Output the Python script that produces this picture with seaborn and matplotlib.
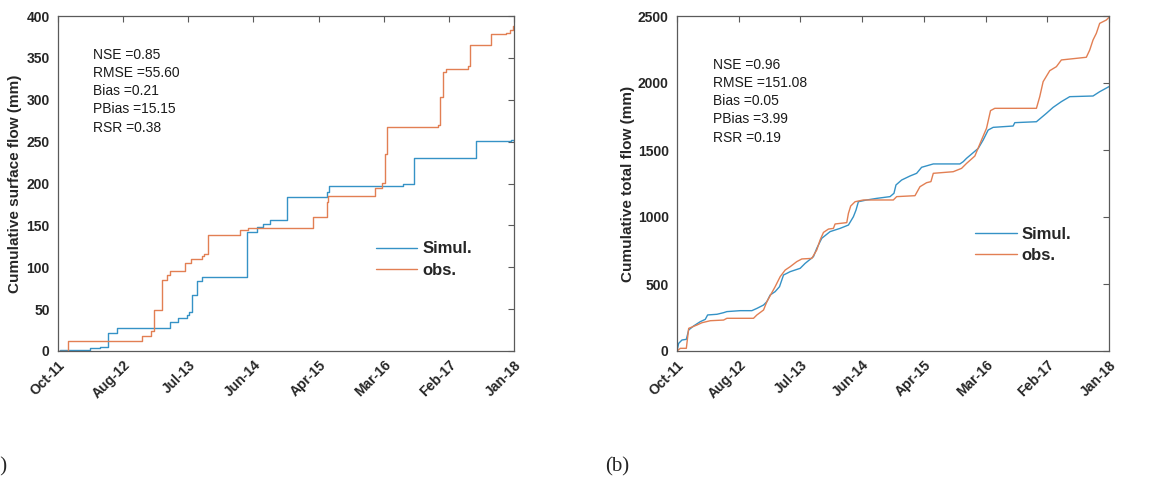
import matplotlib
matplotlib.use("Agg")
import matplotlib.pyplot as plt
import numpy as np
import pandas as pd
import seaborn as sns

# ---- time axis (decimal years) ----
x_start, x_end = 2011.75, 2018.0
tick_labels = ["Oct-11", "Aug-12", "Jul-13", "Jun-14", "Apr-15", "Mar-16", "Feb-17", "Jan-18"]

# ---- (a) cumulative surface flow, mm ----
surf_sim_t = [2011.750, 2011.782, 2012.193, 2012.329, 2012.434, 2012.557, 2013.242, 2013.287,
              2013.395, 2013.516, 2013.552, 2013.580, 2013.652, 2013.730, 2014.337, 2014.474,
              2014.565, 2014.656, 2014.884, 2015.432, 2015.464, 2016.481, 2016.632, 2017.475,
              2017.962, 2018.000]
surf_sim_v = [0, 1, 3, 5, 22, 27, 28, 35,
              40, 43, 46, 67, 84, 88, 142, 148,
              152, 157, 184, 190, 197, 200, 230, 251,
              252, 250]
surf_obs_t = [2011.750, 2011.893, 2012.903, 2013.018, 2013.070, 2013.182, 2013.242, 2013.287,
              2013.484, 2013.575, 2013.721, 2013.753, 2013.812, 2014.245, 2014.359, 2015.240,
              2015.432, 2015.454, 2016.093, 2016.184, 2016.230, 2016.253, 2016.960, 2016.992,
              2017.028, 2017.065, 2017.370, 2017.393, 2017.690, 2017.895, 2017.941, 2017.986,
              2018.000]
surf_obs_v = [0, 12, 18, 24, 49, 85, 91, 95,
              105, 110, 113, 116, 138, 144, 147, 160,
              178, 185, 195, 201, 235, 267, 270, 303,
              333, 337, 340, 365, 378, 380, 383, 388,
              388]

# ---- (b) cumulative total flow, mm ----
tot_sim_t = [2011.750, 2011.774, 2011.822, 2011.885, 2011.919, 2011.991, 2012.087, 2012.159,
             2012.193, 2012.328, 2012.424, 2012.472, 2012.665, 2012.833, 2012.906, 2013.002,
             2013.050, 2013.098, 2013.170, 2013.233, 2013.291, 2013.387, 2013.532, 2013.604,
             2013.724, 2013.772, 2013.844, 2013.965, 2014.109, 2014.230, 2014.302, 2014.340,
             2014.374, 2014.494, 2014.639, 2014.832, 2014.889, 2014.918, 2015.000, 2015.121,
             2015.217, 2015.289, 2015.458, 2015.843, 2015.891, 2015.939, 2016.035, 2016.108,
             2016.180, 2016.252, 2016.324, 2016.613, 2016.637, 2016.950, 2017.095, 2017.191,
             2017.311, 2017.432, 2017.769, 2017.865, 2018.000]
tot_sim_v = [0, 57, 82, 87, 157, 187, 219, 236,
             269, 274, 286, 294, 301, 301, 318, 343,
             368, 418, 443, 480, 567, 592, 617, 654,
             704, 766, 841, 891, 915, 940, 1002, 1052,
             1114, 1127, 1139, 1152, 1177, 1239, 1276, 1306,
             1326, 1371, 1396, 1396, 1413, 1438, 1480, 1512,
             1575, 1649, 1669, 1679, 1704, 1711, 1774, 1818,
             1861, 1898, 1903, 1935, 1973]
tot_obs_t = [2011.750, 2011.798, 2011.885, 2011.919, 2012.039, 2012.111, 2012.232, 2012.424,
             2012.472, 2012.857, 2012.906, 2013.002, 2013.050, 2013.170, 2013.243, 2013.315,
             2013.387, 2013.483, 2013.556, 2013.700, 2013.772, 2013.820, 2013.869, 2013.941,
             2014.013, 2014.037, 2014.206, 2014.230, 2014.263, 2014.326, 2014.446, 2014.880,
             2014.928, 2015.193, 2015.265, 2015.361, 2015.424, 2015.458, 2015.746, 2015.867,
             2015.939, 2016.059, 2016.156, 2016.228, 2016.286, 2016.348, 2016.950, 2016.998,
             2017.047, 2017.143, 2017.239, 2017.311, 2017.672, 2017.721, 2017.769, 2017.817,
             2017.865, 2017.961, 2018.000]
tot_obs_v = [0, 20, 20, 169, 194, 211, 226, 231,
             244, 244, 269, 306, 368, 480, 555, 604,
             629, 667, 687, 691, 754, 828, 885, 910,
             915, 948, 958, 1027, 1082, 1114, 1127, 1127,
             1152, 1159, 1226, 1256, 1264, 1326, 1338, 1363,
             1400, 1455, 1575, 1662, 1794, 1811, 1811, 1898,
             2010, 2092, 2122, 2172, 2192, 2246, 2321, 2371,
             2445, 2470, 2490]

stats_a = ["NSE =0.85", "RMSE =55.60", "Bias =0.21", "PBias =15.15", "RSR =0.38"]
stats_b = ["NSE =0.96", "RMSE =151.08", "Bias =0.05", "PBias =3.99", "RSR =0.19"]

series_order = ["Simul.", "obs."]
palette = {"Simul.": "#3592C6", "obs.": "#E27F53"}


def frame(sim_t, sim_v, obs_t, obs_v):
    return pd.concat([
        pd.DataFrame({"year": sim_t, "value": sim_v, "series": "Simul."}),
        pd.DataFrame({"year": obs_t, "value": obs_v, "series": "obs."}),
    ], ignore_index=True)


sns.set_theme(style="white")
plt.rcParams["font.family"] = ["Liberation Sans", "DejaVu Sans"]

fig = plt.figure(figsize=(11.51, 4.83), dpi=100)
W, H = 1151, 483
ax_a = fig.add_axes([58 / W, 1 - 351 / H, 456 / W, 335 / H])
ax_b = fig.add_axes([677 / W, 1 - 351 / H, 432 / W, 335 / H])

panels = [
    (ax_a, frame(surf_sim_t, surf_sim_v, surf_obs_t, surf_obs_v), "steps-post",
     (0, 400), np.arange(0, 401, 50), "Cumulative surface flow (mm)", stats_a,
     (0.076, 0.905), (0.697, 0.273), -0.079),
    (ax_b, frame(tot_sim_t, tot_sim_v, tot_obs_t, tot_obs_v), "default",
     (0, 2500), np.arange(0, 2501, 500), "Cumulative total flow (mm)", stats_b,
     (0.083, 0.875), (0.69, 0.317), -0.097),
]

xticks = np.linspace(x_start, x_end, len(tick_labels))
axis_grey = "#5a5a5a"

for ax, df, dstyle, ylim, yticks, ylabel, stats, stat_pos, leg_pos, ylab_x in panels:
    sns.lineplot(data=df, x="year", y="value", hue="series", hue_order=series_order,
                 palette=palette, estimator=None, drawstyle=dstyle, linewidth=1.0,
                 legend=False, ax=ax)
    ax.set_xlim(x_start, x_end)
    ax.set_ylim(*ylim)
    ax.set_xticks(xticks)
    ax.set_xticklabels(tick_labels, rotation=45, ha="right", rotation_mode="anchor",
                       fontsize=10, fontweight="bold", color="#262626")
    ax.set_yticks(yticks)
    ax.set_yticklabels([str(v) for v in yticks], fontsize=10, fontweight="bold",
                       color="#262626")
    ax.tick_params(direction="in", length=4, width=0.8, color=axis_grey,
                   top=True, right=True, pad=6)
    ax.tick_params(axis="x", pad=5)
    for sp in ax.spines.values():
        sp.set_color(axis_grey)
        sp.set_linewidth(0.9)
    ax.set_xlabel("")
    ax.set_ylabel(ylabel, fontsize=11, fontweight="bold", color="#262626")
    ax.yaxis.set_label_coords(ylab_x, 0.5)

    ax.text(stat_pos[0], stat_pos[1], "\n".join(stats), transform=ax.transAxes,
            ha="left", va="top", fontsize=10, linespacing=1.38, color="#1a1a1a")

    ax.legend(handles=ax.lines[:2], labels=series_order, loc="center left",
              bbox_to_anchor=leg_pos, frameon=False, borderpad=0, borderaxespad=0,
              handlelength=2.5, handletextpad=0.3, labelspacing=0.38,
              prop={"weight": "bold", "size": 12})

fig.text(7 / W, 1 - 467 / H, "(a)", ha="right", va="center",
         fontsize=15, family="Liberation Serif")
fig.text(605 / W, 1 - 467 / H, "(b)", ha="left", va="center",
         fontsize=15, family="Liberation Serif")

fig.savefig("out.png", dpi=100, facecolor="white")
